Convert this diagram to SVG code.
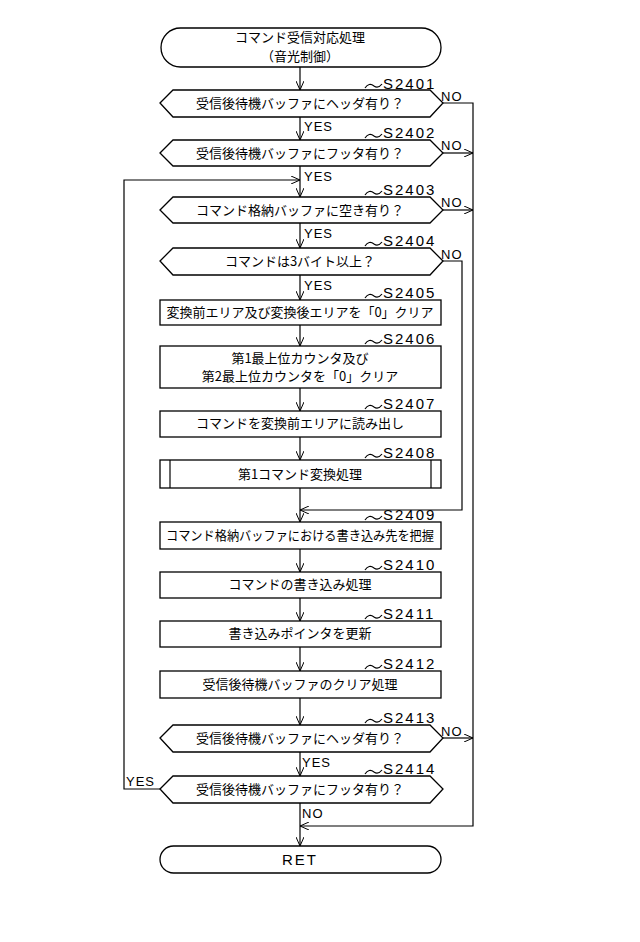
<svg xmlns="http://www.w3.org/2000/svg" width="640" height="942" viewBox="0 0 640 942">
<style>
.s{fill:#fff;stroke:#000;stroke-width:1.3}
.l{fill:none;stroke:#000;stroke-width:1.2}
text{font-family:"Noto Sans CJK JP","Liberation Sans",sans-serif;font-size:13px;fill:#000}
.c{text-anchor:middle}
.lab{font-family:"Liberation Sans",sans-serif;font-size:15px;letter-spacing:2px}
.yn{font-family:"Liberation Sans",sans-serif;font-size:13px;letter-spacing:1px}
</style>
<defs><marker id="a" markerWidth="10" markerHeight="8" refX="9" refY="4" orient="auto" markerUnits="userSpaceOnUse"><path d="M0,0 L9,4 L0,8" fill="none" stroke="#000" stroke-width="1"/></marker></defs>
<g id="connectors" class="l">
<line x1="300" y1="67" x2="300" y2="90" marker-end="url(#a)"/>
<line x1="300" y1="117" x2="300" y2="140" marker-end="url(#a)"/>
<line x1="300" y1="166" x2="300" y2="197" marker-end="url(#a)"/>
<line x1="300" y1="223" x2="300" y2="248" marker-end="url(#a)"/>
<line x1="300" y1="275" x2="300" y2="300" marker-end="url(#a)"/>
<line x1="300" y1="325" x2="300" y2="346" marker-end="url(#a)"/>
<line x1="300" y1="388" x2="300" y2="411" marker-end="url(#a)"/>
<line x1="300" y1="437" x2="300" y2="460" marker-end="url(#a)"/>
<line x1="300" y1="488" x2="300" y2="522" marker-end="url(#a)"/>
<line x1="300" y1="549" x2="300" y2="572" marker-end="url(#a)"/>
<line x1="300" y1="598" x2="300" y2="621" marker-end="url(#a)"/>
<line x1="300" y1="647" x2="300" y2="671" marker-end="url(#a)"/>
<line x1="300" y1="698" x2="300" y2="725" marker-end="url(#a)"/>
<line x1="300" y1="752" x2="300" y2="776" marker-end="url(#a)"/>
<line x1="300" y1="803" x2="300" y2="846" marker-end="url(#a)"/>
<polyline points="443,103 473,103 473,826 300,826" marker-end="url(#a)"/>
<line x1="443" y1="153" x2="473" y2="153" marker-end="url(#a)"/>
<line x1="443" y1="210" x2="473" y2="210" marker-end="url(#a)"/>
<line x1="443" y1="738" x2="473" y2="738" marker-end="url(#a)"/>
<polyline points="443,261 462,261 462,510 300,510" marker-end="url(#a)"/>
<polyline points="160,789 124,789 124,180 300,180" marker-end="url(#a)"/>
</g>
<g id="start"><rect class="s" x="161" y="28" width="280" height="39" rx="19.5"/><text class="c" x="300" y="42" font-size="11.5">コマンド受信対応処理</text><text class="c" x="300" y="61" font-size="11.5">（音光制御）</text></g>
<g id="S2401"><polygon class="s" points="160,103 173,90 430,90 443,103 430,117 173,117"/><text class="c" x="300" y="108">受信後待機バッファにヘッダ有り？</text></g>
<g id="S2402"><polygon class="s" points="160,153 173,140 430,140 443,153 430,166 173,166"/><text class="c" x="300" y="158">受信後待機バッファにフッタ有り？</text></g>
<g id="S2403"><polygon class="s" points="160,210 173,197 430,197 443,210 430,223 173,223"/><text class="c" x="300" y="215">コマンド格納バッファに空き有り？</text></g>
<g id="S2404"><polygon class="s" points="160,261 173,248 430,248 443,261 430,275 173,275"/><text class="c" x="300" y="266">コマンドは3バイト以上？</text></g>
<g id="S2405"><rect class="s" x="160" y="300" width="281" height="25"/><text class="c" x="300" y="317">変換前エリア及び変換後エリアを「0」クリア</text></g>
<g id="S2406"><rect class="s" x="160" y="346" width="281" height="42"/><text class="c" x="300" y="363">第1最上位カウンタ及び</text><text class="c" x="300" y="381">第2最上位カウンタを「0」クリア</text></g>
<g id="S2407"><rect class="s" x="160" y="411" width="281" height="26"/><text class="c" x="300" y="428">コマンドを変換前エリアに読み出し</text></g>
<g id="S2408"><rect class="s" x="160" y="460" width="281" height="28"/><line class="l" x1="170" y1="460" x2="170" y2="488"/><line class="l" x1="431" y1="460" x2="431" y2="488"/><text class="c" x="300" y="479">第1コマンド変換処理</text></g>
<g id="S2409"><rect class="s" x="160" y="522" width="281" height="27"/><text class="c" x="300" y="540" textLength="268" lengthAdjust="spacingAndGlyphs">コマンド格納バッファにおける書き込み先を把握</text></g>
<g id="S2410"><rect class="s" x="160" y="572" width="281" height="26"/><text class="c" x="300" y="589">コマンドの書き込み処理</text></g>
<g id="S2411"><rect class="s" x="160" y="621" width="281" height="26"/><text class="c" x="300" y="638">書き込みポインタを更新</text></g>
<g id="S2412"><rect class="s" x="160" y="671" width="281" height="27"/><text class="c" x="300" y="689">受信後待機バッファのクリア処理</text></g>
<g id="S2413"><polygon class="s" points="160,738 173,725 430,725 443,738 430,752 173,752"/><text class="c" x="300" y="743">受信後待機バッファにヘッダ有り？</text></g>
<g id="S2414"><polygon class="s" points="160,789 173,776 430,776 443,789 430,803 173,803"/><text class="c" x="300" y="794">受信後待機バッファにフッタ有り？</text></g>
<g id="end"><rect class="s" x="160" y="846" width="281" height="27" rx="13.5"/><text class="c lab" x="300" y="865">RET</text></g>
<g id="labels">
<g class="l"><path d="M365,88 q4,-6 9,-2 q4,3 8,-2"/><path d="M365,138 q4,-6 9,-2 q4,3 8,-2"/><path d="M365,195 q4,-6 9,-2 q4,3 8,-2"/><path d="M365,246 q4,-6 9,-2 q4,3 8,-2"/><path d="M365,298 q4,-6 9,-2 q4,3 8,-2"/><path d="M365,344 q4,-6 9,-2 q4,3 8,-2"/><path d="M365,409 q4,-6 9,-2 q4,3 8,-2"/><path d="M365,458 q4,-6 9,-2 q4,3 8,-2"/><path d="M365,520 q4,-6 9,-2 q4,3 8,-2"/><path d="M365,570 q4,-6 9,-2 q4,3 8,-2"/><path d="M365,619 q4,-6 9,-2 q4,3 8,-2"/><path d="M365,669 q4,-6 9,-2 q4,3 8,-2"/><path d="M365,723 q4,-6 9,-2 q4,3 8,-2"/><path d="M365,774 q4,-6 9,-2 q4,3 8,-2"/></g>
<text class="lab" x="383" y="89">S2401</text><text class="lab" x="383" y="138">S2402</text><text class="lab" x="383" y="195">S2403</text><text class="lab" x="383" y="246">S2404</text><text class="lab" x="383" y="298">S2405</text><text class="lab" x="383" y="344">S2406</text><text class="lab" x="383" y="409">S2407</text><text class="lab" x="383" y="458">S2408</text><text class="lab" x="383" y="520">S2409</text><text class="lab" x="383" y="570">S2410</text><text class="lab" x="383" y="619">S2411</text><text class="lab" x="383" y="669">S2412</text><text class="lab" x="383" y="723">S2413</text><text class="lab" x="383" y="774">S2414</text>
<text class="yn" x="304" y="131">YES</text><text class="yn" x="304" y="181">YES</text><text class="yn" x="304" y="238">YES</text><text class="yn" x="304" y="290">YES</text><text class="yn" x="302" y="767">YES</text><text class="yn" x="126" y="786">YES</text><text class="yn" x="302" y="818">NO</text>
<text class="yn" x="441" y="101">NO</text><text class="yn" x="441" y="150">NO</text><text class="yn" x="441" y="207">NO</text><text class="yn" x="441" y="259">NO</text><text class="yn" x="441" y="736">NO</text>
</g>
</svg>
